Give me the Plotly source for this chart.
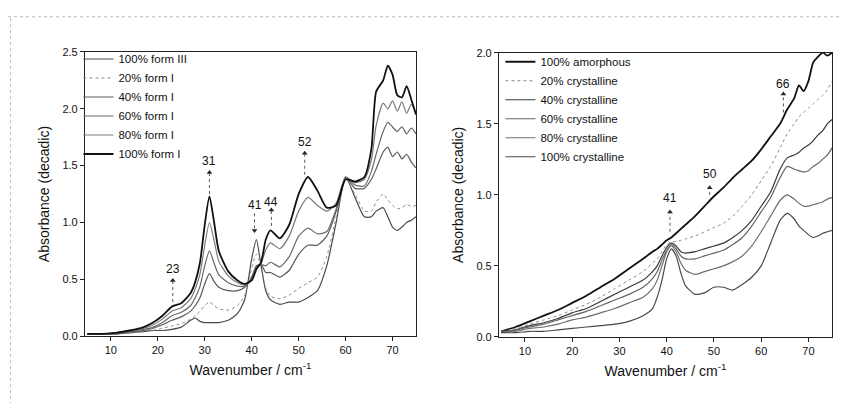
import plotly.graph_objects as go

# ---------------- Left panel data (form III / form I mixtures) ----------------
x_left = [5, 8, 11, 14, 17, 19, 21, 23, 25, 27, 28, 29, 30, 31, 32, 33, 35, 37, 38.5,
          40, 41, 42, 43, 44, 46, 48, 50, 52, 54, 56, 58, 60, 62, 64, 65.5, 66.5, 68,
          69, 70, 71, 72, 73, 74, 75]

form3_100 = [0.02, 0.02, 0.02, 0.03, 0.04, 0.05, 0.05, 0.06, 0.08, 0.14, 0.16, 0.13, 0.12, 0.12,
             0.12, 0.12, 0.14, 0.20, 0.32, 0.68, 0.85, 0.62, 0.40, 0.32, 0.28, 0.30, 0.30, 0.34,
             0.40, 0.62, 1.00, 1.40, 1.22, 1.05, 1.05, 1.10, 1.13, 1.05, 0.96, 0.93, 0.96, 1.00,
             1.02, 1.05]
form1_20 = [0.02, 0.02, 0.02, 0.03, 0.04, 0.05, 0.07, 0.09, 0.11, 0.15, 0.18, 0.22, 0.27, 0.30,
            0.27, 0.24, 0.23, 0.27, 0.36, 0.60, 0.72, 0.62, 0.42, 0.35, 0.33, 0.36, 0.42, 0.47,
            0.52, 0.70, 1.05, 1.38, 1.25, 1.10, 1.10, 1.18, 1.25, 1.20, 1.15, 1.12, 1.13, 1.16,
            1.14, 1.15]
form1_40 = [0.02, 0.02, 0.02, 0.04, 0.05, 0.07, 0.10, 0.14, 0.17, 0.22, 0.27, 0.34, 0.46, 0.55,
            0.48, 0.43, 0.40, 0.40, 0.43, 0.52, 0.62, 0.63, 0.56, 0.56, 0.52, 0.58, 0.72, 0.80,
            0.80, 0.88, 1.10, 1.40, 1.30, 1.30, 1.38, 1.47, 1.62, 1.66, 1.58, 1.62, 1.56, 1.60,
            1.53, 1.48]
form1_60 = [0.02, 0.02, 0.03, 0.04, 0.06, 0.08, 0.12, 0.18, 0.21, 0.27, 0.34, 0.44, 0.62, 0.75,
            0.64, 0.54, 0.47, 0.44, 0.44, 0.51, 0.61, 0.63, 0.62, 0.65, 0.61, 0.70, 0.88, 0.95,
            0.90, 0.92, 1.12, 1.40, 1.33, 1.32, 1.45, 1.60, 1.80, 1.88, 1.84, 1.80, 1.84, 1.78,
            1.83, 1.78]
form1_80 = [0.02, 0.02, 0.03, 0.05, 0.07, 0.10, 0.15, 0.22, 0.25, 0.33, 0.42, 0.55, 0.80, 1.00,
            0.84, 0.66, 0.53, 0.47, 0.45, 0.50, 0.60, 0.64, 0.76, 0.82, 0.77, 0.88, 1.10, 1.22,
            1.15, 1.10, 1.17, 1.40, 1.35, 1.38, 1.55, 1.85, 2.05, 2.00, 2.07, 1.98, 2.06, 1.96,
            2.04, 1.95]
form1_100 = [0.02, 0.02, 0.03, 0.05, 0.08, 0.12, 0.18, 0.26, 0.29, 0.38, 0.48, 0.65, 0.98, 1.23,
             1.00, 0.75, 0.57, 0.49, 0.46, 0.49, 0.59, 0.65, 0.85, 0.93, 0.86, 0.98, 1.25, 1.40,
             1.28, 1.13, 1.15, 1.38, 1.36, 1.40, 1.65, 2.15, 2.25, 2.38, 2.30, 2.12, 2.10, 2.20,
             2.08, 1.95]

left_names = ["100% form III", "20% form I", "40% form I", "60% form I", "80% form I", "100% form I"]
left_series = [form3_100, form1_20, form1_40, form1_60, form1_80, form1_100]

# ---------------- Right panel data (amorphous / crystalline mixtures) ----------------
x_right = [5, 8, 11, 14, 17, 20, 23, 26, 29, 32, 35, 37, 38, 39, 40, 41, 42, 43, 44, 46, 48,
           50, 52, 54, 56, 58, 60, 62, 64, 65.5, 67, 68, 69, 70, 71, 72, 73, 74, 75]

amorph_100 = [0.04, 0.07, 0.11, 0.15, 0.19, 0.24, 0.29, 0.35, 0.41, 0.48, 0.55, 0.60, 0.62, 0.65,
              0.68, 0.70, 0.73, 0.76, 0.79, 0.85, 0.92, 0.99, 1.05, 1.12, 1.18, 1.24, 1.32, 1.41,
              1.50, 1.60, 1.68, 1.77, 1.73, 1.80, 1.93, 1.97, 2.00, 1.98, 2.00]
cryst_20 = [0.04, 0.06, 0.09, 0.12, 0.15, 0.19, 0.23, 0.28, 0.34, 0.40, 0.46, 0.52, 0.55, 0.60,
            0.65, 0.67, 0.67, 0.68, 0.69, 0.71, 0.74, 0.77, 0.80, 0.85, 0.92, 1.00, 1.10, 1.20,
            1.33, 1.43, 1.50, 1.55, 1.58, 1.61, 1.64, 1.67, 1.70, 1.74, 1.80]
cryst_40 = [0.04, 0.05, 0.08, 0.10, 0.13, 0.17, 0.20, 0.25, 0.30, 0.35, 0.40, 0.46, 0.50, 0.57,
            0.63, 0.66, 0.64, 0.60, 0.59, 0.60, 0.62, 0.64, 0.66, 0.70, 0.75, 0.82, 0.92, 1.02,
            1.18, 1.26, 1.28, 1.30, 1.33, 1.35, 1.38, 1.42, 1.45, 1.50, 1.53]
cryst_60 = [0.03, 0.05, 0.07, 0.09, 0.12, 0.15, 0.18, 0.22, 0.26, 0.30, 0.35, 0.41, 0.46, 0.54,
            0.61, 0.65, 0.62, 0.57, 0.55, 0.55, 0.57, 0.59, 0.61, 0.65, 0.70, 0.78, 0.88, 0.98,
            1.12, 1.20, 1.18, 1.17, 1.16, 1.17, 1.20, 1.22, 1.25, 1.28, 1.33]
cryst_80 = [0.03, 0.04, 0.06, 0.07, 0.09, 0.12, 0.14, 0.17, 0.20, 0.24, 0.28, 0.34, 0.40, 0.50,
            0.60, 0.64, 0.60, 0.52, 0.47, 0.44, 0.46, 0.48, 0.50, 0.53, 0.57, 0.64, 0.74, 0.85,
            0.96, 1.00, 0.97, 0.94, 0.92, 0.92, 0.93, 0.94, 0.95, 0.97, 0.98]
cryst_100 = [0.03, 0.03, 0.04, 0.04, 0.05, 0.06, 0.07, 0.08, 0.09, 0.11, 0.15, 0.20, 0.28, 0.40,
             0.55, 0.62, 0.57, 0.45, 0.36, 0.30, 0.31, 0.35, 0.35, 0.33, 0.37, 0.42, 0.50, 0.66,
             0.82, 0.87, 0.83, 0.78, 0.75, 0.72, 0.70, 0.71, 0.73, 0.74, 0.75]

right_names = ["100% amorphous", "20% crystalline", "40% crystalline", "60% crystalline",
               "80% crystalline", "100% crystalline"]
right_series = [amorph_100, cryst_20, cryst_40, cryst_60, cryst_80, cryst_100]

# Peak labels: (text, x, label_y, arrow_tip_y, arrow_tail_y, direction)
left_peaks = [("23", 23.2, 0.59, 0.49, 0.30, "up"), ("31", 31.0, 1.54, 1.44, 1.25, "up"),
              ("52", 51.3, 1.71, 1.61, 1.42, "up"), ("44", 44.2, 1.18, 1.11, 0.97, "up"),
              ("41", 40.6, 1.15, 0.93, 1.08, "down")]
right_peaks = [("41", 40.7, 0.98, 0.88, 0.74, "up"), ("50", 49.1, 1.15, 1.05, 1.00, "up"),
               ("66", 64.7, 1.78, 1.71, 1.58, "up")]

x_ticks = [10, 20, 30, 40, 50, 60, 70]

# ---------------- Styling ----------------
left_styles = [dict(color="#4a4a4a", width=1.2, dash="solid"),
               dict(color="#8a8a8a", width=1.0, dash="dot"),
               dict(color="#5a5a5a", width=1.2, dash="solid"),
               dict(color="#6a6a6a", width=1.2, dash="solid"),
               dict(color="#7a7a7a", width=1.2, dash="solid"),
               dict(color="#111111", width=1.8, dash="solid")]
right_styles = [dict(color="#111111", width=1.8, dash="solid"),
                dict(color="#8a8a8a", width=1.0, dash="dot"),
                dict(color="#3a3a3a", width=1.2, dash="solid"),
                dict(color="#666666", width=1.2, dash="solid"),
                dict(color="#6e6e6e", width=1.2, dash="solid"),
                dict(color="#4a4a4a", width=1.2, dash="solid")]

fig = go.Figure()
for name, ys, st in zip(left_names, left_series, left_styles):
    fig.add_trace(go.Scatter(x=x_left, y=ys, name=name, mode="lines",
                             line=dict(shape="spline", smoothing=0.6, **st),
                             xaxis="x", yaxis="y", legend="legend"))
for name, ys, st in zip(right_names, right_series, right_styles):
    fig.add_trace(go.Scatter(x=x_right, y=ys, name=name, mode="lines",
                             line=dict(shape="spline", smoothing=0.6, **st),
                             xaxis="x2", yaxis="y2", legend="legend2"))

annotations = []
shapes = []

def add_peak(xa, ya, peaks):
    xs, ys, syms = [], [], []
    for txt, xp, ly, tip, tail, d in peaks:
        shapes.append(dict(type="line", xref=xa, yref=ya, x0=xp, x1=xp, y0=tail, y1=tip,
                           line=dict(color="#555555", width=1, dash="dot")))
        annotations.append(dict(xref=xa, yref=ya, x=xp, y=ly, text=txt, showarrow=False,
                                font=dict(size=12, color="#111111")))
        xs.append(xp)
        ys.append(tip)
        syms.append("triangle-up" if d == "up" else "triangle-down")
    fig.add_trace(go.Scatter(x=xs, y=ys, mode="markers", showlegend=False, hoverinfo="skip",
                             marker=dict(symbol=syms, size=5, color="#222222"),
                             xaxis=xa, yaxis=ya))

add_peak("x", "y", left_peaks)
add_peak("x2", "y2", right_peaks)

font_family = "Liberation Sans, Arial, sans-serif"
axis_common = dict(showline=True, linecolor="#222222", linewidth=1.2, mirror=True, ticks="outside",
                   ticklen=4, tickwidth=1, tickcolor="#222222", showgrid=False, zeroline=False,
                   tickfont=dict(size=11, color="#111111", family=font_family))

fig.update_layout(
    width=849, height=403,
    margin=dict(l=0, r=0, t=0, b=0),
    paper_bgcolor="white", plot_bgcolor="white",
    font=dict(family=font_family, color="#111111"),
    xaxis=dict(domain=[0.0907, 0.4806], range=[4.5, 75], tickvals=x_ticks, anchor="y",
               title=dict(text="Wavenumber / cm<sup>-1</sup>", font=dict(size=14), standoff=9), **axis_common),
    yaxis=dict(domain=[0.176, 0.903], range=[0, 2.5], tickvals=[0, 0.5, 1.0, 1.5, 2.0, 2.5],
               tickformat=".1f", anchor="x",
               title=dict(text="Absorbance (decadic)", font=dict(size=14), standoff=9), **axis_common),
    xaxis2=dict(domain=[0.5783, 0.9706], range=[4.5, 75], tickvals=x_ticks, anchor="y2",
                title=dict(text="Wavenumber / cm<sup>-1</sup>", font=dict(size=14), standoff=9), **axis_common),
    yaxis2=dict(domain=[0.174, 0.901], range=[0, 2.0], tickvals=[0, 0.5, 1.0, 1.5, 2.0],
                tickformat=".1f", anchor="x2",
                title=dict(text="Absorbance (decadic)", font=dict(size=14), standoff=9), **axis_common),
    legend=dict(x=0.083, y=0.922, xanchor="left", yanchor="top", bgcolor="rgba(0,0,0,0)",
                font=dict(size=11.5, family=font_family), tracegroupgap=0, itemwidth=30),
    legend2=dict(x=0.580, y=0.915, xanchor="left", yanchor="top", bgcolor="rgba(0,0,0,0)",
                 font=dict(size=11.5, family=font_family), tracegroupgap=0, itemwidth=30),
    showlegend=True,
)

# faint scan border
shapes.append(dict(type="line", xref="paper", yref="paper", x0=0, x1=1, y0=0.993, y1=0.993,
                   line=dict(color="#bbbbbb", width=1, dash="dot")))
shapes.append(dict(type="line", xref="paper", yref="paper", x0=0.003, x1=0.003, y0=0, y1=0.993,
                   line=dict(color="#bbbbbb", width=1, dash="dot")))

fig.update_layout(annotations=annotations, shapes=shapes)
fig.write_html("out.html")
